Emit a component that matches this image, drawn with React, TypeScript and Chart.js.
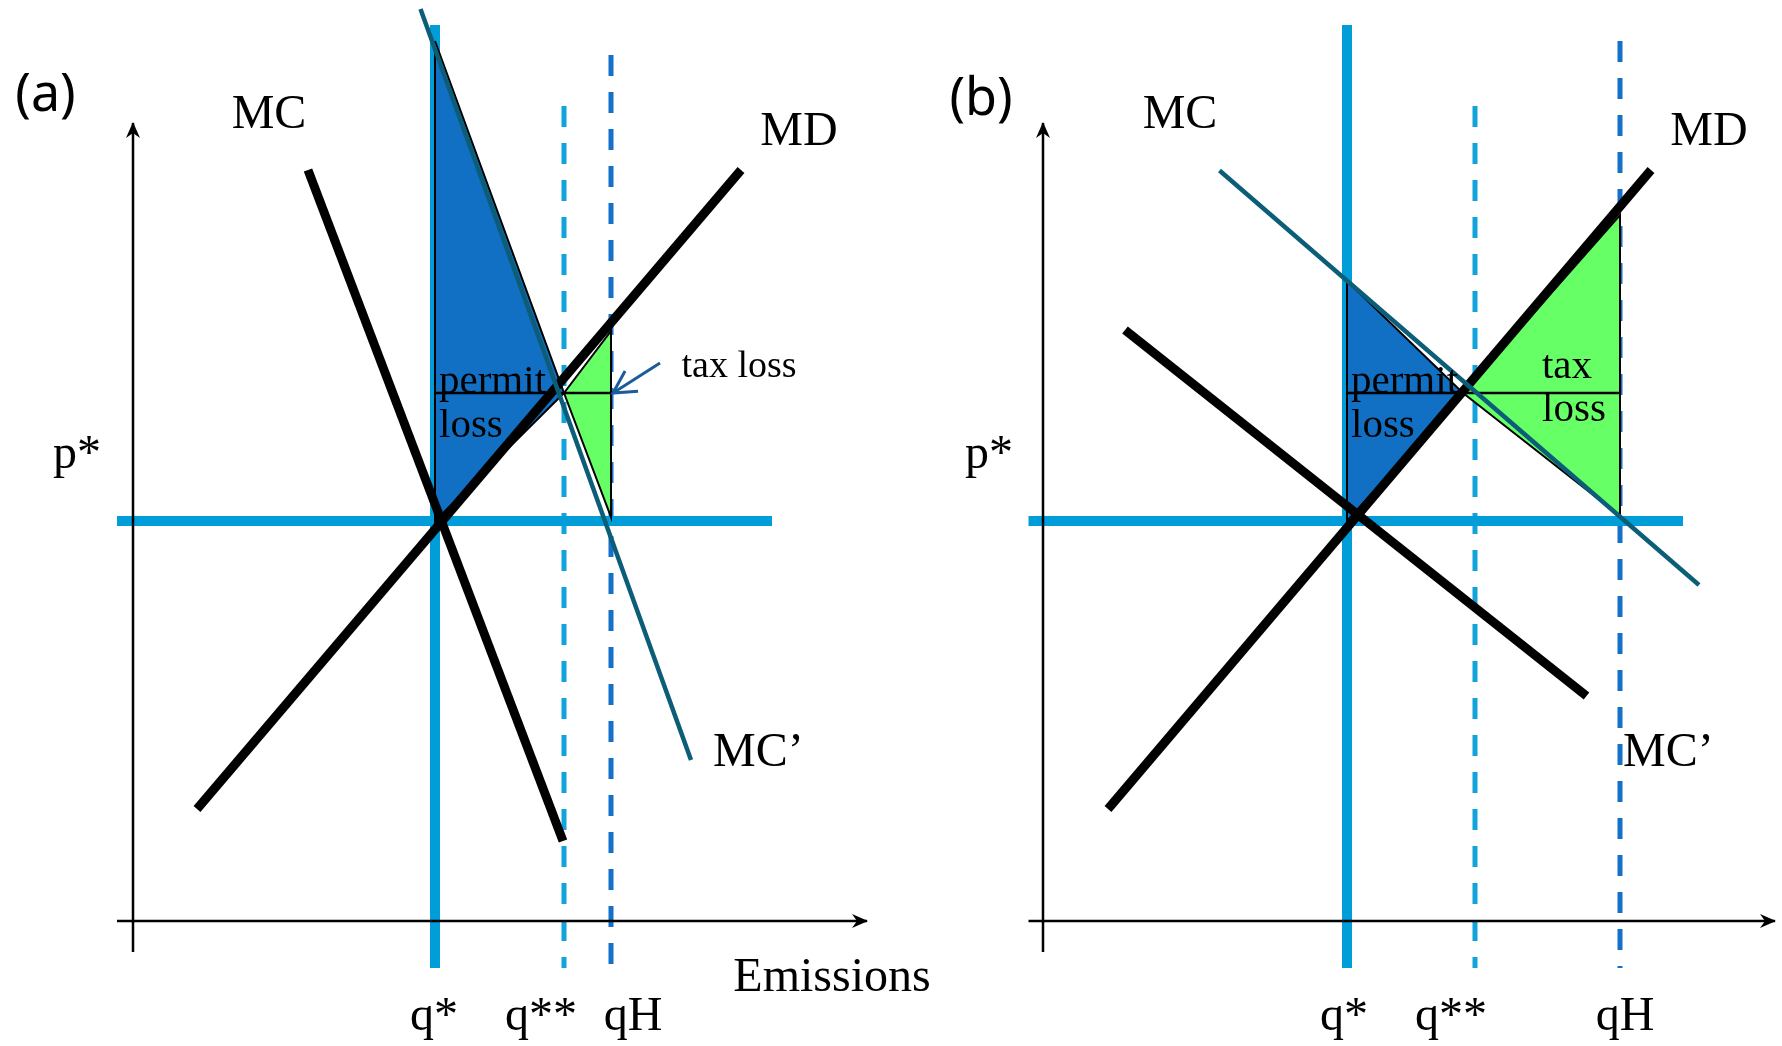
import React, { useEffect, useRef } from "react";
import { Chart, registerables } from "chart.js";
Chart.register(...registerables);

type P = [number, number];

// ---------------- Panel (a) values (emissions, price units) ----------------
const aMC: P[] = [[17.5, 75.1], [43.0, 8.0]];
const aMD: P[] = [[6.4, 11.2], [60.8, 75.1]];
const aMCprime: P[] = [[28.75, 91.2], [55.8, 16.1]];
const aPermitLoss: P[] = [[30.2, 88.0], [43.1, 52.8], [30.2, 40.0], [30.2, 88.0]];
const aTaxLoss: P[] = [[43.1, 52.8], [47.8, 59.0], [47.8, 40.4], [43.1, 52.8]];
const aPStar: P[] = [[-1.6, 40], [63.9, 40]];
const aQStar: P[] = [[30.2, 89.6], [30.2, -4.7]];
const aQ2: P[] = [[43.1, 81.5], [43.1, -4.7]];
const aQH: P[] = [[47.8, 86.6], [47.8, -4.7]];
const aLossLevel: P[] = [[30.2, 52.8], [47.8, 52.8]];
const aYAxis: P[] = [[0, -3.1], [0, 79.8]];
const aXAxis: P[] = [[-1.6, 0], [73.4, 0]];
const aTaxArrow: P[] = [[52.7, 55.8], [48.0, 52.8]];

// ---------------- Panel (b) values ----------------
const bMC: P[] = [[8.2, 59.1], [54.35, 22.5]];
const bMD: P[] = [[6.5, 11.2], [60.8, 75.1]];
const bMCprime: P[] = [[17.65, 75.05], [65.6, 33.6]];
const bPermitLoss: P[] = [[30.4, 64.0], [42.0, 52.8], [30.4, 40.0], [30.4, 64.0]];
const bTaxLoss: P[] = [[42.0, 52.8], [57.7, 70.6], [57.7, 40.5], [42.0, 52.8]];
const bPStar: P[] = [[-1.45, 40], [64.0, 40]];
const bQStar: P[] = [[30.4, 89.6], [30.4, -4.7]];
const bQ2: P[] = [[43.2, 81.5], [43.2, -4.7]];
const bQH: P[] = [[57.7, 88.0], [57.7, -4.7]];
const bLossLevel: P[] = [[30.4, 52.8], [57.7, 52.8]];
const bYAxis: P[] = [[0, -3.1], [0, 79.8]];
const bXAxis: P[] = [[-1.45, 0], [73.2, 0]];

// ---------------- Text labels ----------------
type Label = { text: string; x: number; y: number; size: number; align?: CanvasTextAlign; sans?: boolean };
const aLabels: Label[] = [
  { text: "(a)", x: -8.75, y: 82.5, size: 52, sans: true },
  { text: "MC", x: 13.6, y: 80.6, size: 48 },
  { text: "MD", x: 66.6, y: 78.9, size: 48 },
  { text: "p*", x: -5.6, y: 46.6, size: 48 },
  { text: "permit", x: 30.6, y: 53.9, size: 41, align: "left" },
  { text: "loss", x: 30.6, y: 49.5, size: 41, align: "left" },
  { text: "tax loss", x: 60.6, y: 55.4, size: 38 },
  { text: "MC\u2019", x: 58.0, y: 16.8, size: 48, align: "left" },
  { text: "Emissions", x: 69.9, y: -5.7, size: 48 },
  { text: "q*", x: 30.1, y: -9.6, size: 48 },
  { text: "q**", x: 40.8, y: -9.6, size: 48 },
  { text: "qH", x: 50.0, y: -9.6, size: 48 },
];
const bLabels: Label[] = [
  { text: "(b)", x: -6.2, y: 82.1, size: 52, sans: true },
  { text: "MC", x: 13.7, y: 80.6, size: 48 },
  { text: "MD", x: 66.6, y: 78.9, size: 48 },
  { text: "p*", x: -5.4, y: 46.6, size: 48 },
  { text: "permit", x: 30.8, y: 53.9, size: 41, align: "left" },
  { text: "loss", x: 30.8, y: 49.5, size: 41, align: "left" },
  { text: "tax", x: 52.4, y: 55.4, size: 41 },
  { text: "loss", x: 53.1, y: 51.1, size: 41 },
  { text: "MC\u2019", x: 58.0, y: 16.8, size: 48, align: "left" },
  { text: "q*", x: 30.1, y: -9.6, size: 48 },
  { text: "q**", x: 40.8, y: -9.6, size: 48 },
  { text: "qH", x: 58.2, y: -9.6, size: 48 },
];

const C = {
  thickBlue: "#019DD8",
  q2Dash: "#12A3DC",
  qhDash: "#1570CA",
  permitFill: "#116FC4",
  taxFill: "#66FF66",
  mcPrime: "#0C5E78",
  black: "#000000",
  arrow: "#1D5C9B",
};

const pts = (arr: P[]) => arr.map(([x, y]) => ({ x, y }));

function line(data: P[], color: string, width: number, order: number, extra: any = {}) {
  return {
    type: "line",
    data: pts(data),
    borderColor: color,
    borderWidth: width,
    pointRadius: 0,
    pointHoverRadius: 0,
    tension: 0,
    fill: false,
    order,
    ...extra,
  };
}

function poly(data: P[], color: string, order: number) {
  return line(data, C.black, 2, order, { fill: "shape", backgroundColor: color, borderJoinStyle: "miter" });
}

type Panel = {
  xmin: number;
  xmax: number;
  mc: P[];
  md: P[];
  mcp: P[];
  permit: P[];
  tax: P[];
  pstar: P[];
  qstar: P[];
  q2: P[];
  qh: P[];
  level: P[];
  yAxis: P[];
  xAxis: P[];
  taxArrow?: P[];
  labels: Label[];
};

// both canvases span the full page; x range maps each panel's origin into place
const panelA: Panel = {
  xmin: -13.3, xmax: 164.9,
  mc: aMC, md: aMD, mcp: aMCprime, permit: aPermitLoss, tax: aTaxLoss,
  pstar: aPStar, qstar: aQStar, q2: aQ2, qh: aQH, level: aLossLevel,
  yAxis: aYAxis, xAxis: aXAxis, taxArrow: aTaxArrow, labels: aLabels,
};
const panelB: Panel = {
  xmin: -104.3, xmax: 73.9,
  mc: bMC, md: bMD, mcp: bMCprime, permit: bPermitLoss, tax: bTaxLoss,
  pstar: bPStar, qstar: bQStar, q2: bQ2, qh: bQH, level: bLossLevel,
  yAxis: bYAxis, xAxis: bXAxis, labels: bLabels,
};

function filledHead(ctx: CanvasRenderingContext2D, x: number, y: number, ang: number) {
  ctx.save();
  ctx.translate(x, y);
  ctx.rotate(ang);
  ctx.beginPath();
  ctx.moveTo(1, 0);
  ctx.lineTo(-15, -7);
  ctx.lineTo(-10, 0);
  ctx.lineTo(-15, 7);
  ctx.closePath();
  ctx.fillStyle = "#000";
  ctx.fill();
  ctx.restore();
}

function openHead(ctx: CanvasRenderingContext2D, x: number, y: number, ang: number, color: string) {
  ctx.save();
  ctx.translate(x, y);
  ctx.rotate(ang);
  ctx.beginPath();
  ctx.moveTo(-22, -12);
  ctx.lineTo(0, 0);
  ctx.lineTo(-22, 12);
  ctx.strokeStyle = color;
  ctx.lineWidth = 3;
  ctx.stroke();
  ctx.restore();
}

const diagramPlugin = {
  id: "diagram",
  afterDatasetsDraw(chart: any, _args: any, opts: any) {
    const ctx: CanvasRenderingContext2D = chart.ctx;
    const xs = chart.scales.x;
    const ys = chart.scales.y;
    const px = (p: P) => [xs.getPixelForValue(p[0]), ys.getPixelForValue(p[1])];
    const panel: Panel = opts.panel;
    const arrowFrom = (a: P, b: P, open: boolean, color: string) => {
      const [x0, y0] = px(a);
      const [x1, y1] = px(b);
      const ang = Math.atan2(y1 - y0, x1 - x0);
      if (open) openHead(ctx, x1, y1, ang, color);
      else filledHead(ctx, x1, y1, ang);
    };
    arrowFrom(panel.yAxis[0], panel.yAxis[1], false, "#000");
    arrowFrom(panel.xAxis[0], panel.xAxis[1], false, "#000");
    if (panel.taxArrow) arrowFrom(panel.taxArrow[0], panel.taxArrow[1], true, C.arrow);
    ctx.save();
    ctx.fillStyle = "#000";
    ctx.textBaseline = "middle";
    for (const l of panel.labels) {
      ctx.font = `${l.size}px ${l.sans ? '"Noto Sans", "Open Sans", sans-serif' : '"Liberation Serif", "DejaVu Serif", serif'}`;
      ctx.textAlign = l.align || "center";
      const [x, y] = px([l.x, l.y]);
      ctx.fillText(l.text, x, y);
    }
    ctx.restore();
  },
};

function buildConfig(p: Panel): any {
  const datasets: any[] = [
    line(p.q2, C.q2Dash, 5, 20, { borderDash: [21, 16] }),
    line(p.qh, C.qhDash, 5, 20, { borderDash: [21, 16] }),
    line(p.pstar, C.thickBlue, 10, 18),
    line(p.qstar, C.thickBlue, 10, 18),
    poly(p.permit, C.permitFill, 16),
    poly(p.tax, C.taxFill, 16),
    line(p.level, C.black, 2.5, 14),
    line(p.md, C.black, 9, 12),
    line(p.mc, C.black, 9, 12),
    line(p.mcp, C.mcPrime, 4.5, 10),
    line(p.yAxis, C.black, 2.5, 8),
    line(p.xAxis, C.black, 2.5, 8),
  ];
  if (p.taxArrow) datasets.push(line(p.taxArrow, C.arrow, 3, 6));
  return {
    type: "line",
    data: { datasets },
    plugins: [diagramPlugin],
    options: {
      animation: false,
      responsive: false,
      events: [],
      layout: { padding: 0, autoPadding: false },
      plugins: {
        legend: { display: false },
        tooltip: { enabled: false },
        title: { display: false },
        diagram: { panel: p },
      },
      scales: {
        x: { type: "linear", min: p.xmin, max: p.xmax, display: false },
        y: { type: "linear", min: -12.5, max: 92.1, display: false },
      },
    },
  };
}

function PanelChart({ panel }: { panel: Panel }) {
  const ref = useRef<HTMLCanvasElement>(null);
  useEffect(() => {
    const chart = new Chart(ref.current as HTMLCanvasElement, buildConfig(panel));
    return () => chart.destroy();
  }, [panel]);
  return (
    <canvas
      ref={ref}
      width={1782}
      height={1046}
      style={{ position: "absolute", left: 0, top: 0, width: 1782, height: 1046 }}
    />
  );
}

export default function App() {
  return (
    <div style={{ position: "fixed", left: 0, top: 0, width: 1782, height: 1046, background: "#ffffff" }}>
      <PanelChart panel={panelA} />
      <PanelChart panel={panelB} />
    </div>
  );
}
